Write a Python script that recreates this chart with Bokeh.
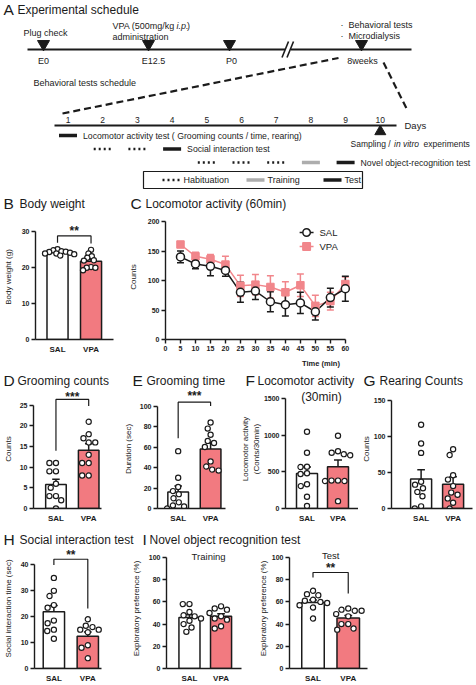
import math
from bokeh.plotting import figure
from bokeh.models import Range1d, FixedTicker
from bokeh.layouts import column, row
from bokeh.core.properties import value
from bokeh.embed import file_html
from bokeh.resources import INLINE

FONT = "Liberation Sans"
INK = "#1b1b1b"
PINK = "#F27A80"
PINK_LINE = "#F1868B"
GREY = "#ADADAD"

# ---------------- data ----------------
GROUPS = ["SAL", "VPA"]

# A: schedule
event_labels = ["E0", "E12.5", "P0", "8weeks"]
days = [1, 2, 3, 4, 5, 6, 7, 8, 9, 10]
schedule_day = [1, 2, 3, 4, 5, 6, 7, 8, 9]
schedule_row = [0, 1, 1, 1, 2, 2, 2, 2, 2]
schedule_kind = ["Test", "Habituation", "Habituation", "Test",
                 "Habituation", "Habituation", "Habituation", "Training", "Test"]
test_names = ["Locomotor activity test ( Grooming counts / time, rearing)",
              "Social interaction test", "Novel object-recognition test"]
legend_kinds = ["Habituation", "Training", "Test"]

# B: body weight (g)
bw_sal = [25.2, 24.9, 24.6, 24.5, 24.4, 24.2, 24.0, 24.0, 23.8, 23.4]
bw_vpa = [25.0, 24.0, 23.2, 22.8, 22.1, 22.0, 20.2, 20.0, 20.0, 19.3]
bw_mean = [24.3, 21.8]
bw_sem = [0.2, 0.6]

# C: locomotor activity 60 min
time_min = [5, 10, 15, 20, 25, 30, 35, 40, 45, 50, 55, 60]
loco_sal = [140, 128, 124, 117, 80, 82, 64, 59, 62, 47, 71, 86]
loco_sal_sem = [10, 8, 16, 10, 17, 14, 17, 19, 18, 14, 16, 21]
loco_vpa = [161, 141, 136, 127, 91, 93, 89, 80, 92, 57, 65, 94]
loco_vpa_sem = [3, 7, 8, 14, 18, 17, 19, 18, 19, 18, 15, 12]

# D: grooming counts
gc_sal = [11, 11, 9, 9, 6, 5, 3, 3, 2, 0]
gc_vpa = [21, 18, 17, 16, 16, 13, 11, 11, 8, 8]
gc_mean = [5.8, 14.1]
gc_sem = [1.3, 1.6]

# E: grooming time (sec)
gt_sal = [56, 30, 21, 17, 14, 10, 6, 3, 2, 0]
gt_vpa = [84, 78, 72, 66, 64, 60, 46, 41, 38, 37]
gt_mean = [16, 58]
gt_sem = [6, 6.4]

# F: locomotor activity 30 min
la_sal = [1045, 760, 570, 565, 480, 470, 330, 305, 160, 35]
la_vpa = [990, 780, 760, 740, 725, 380, 380, 375, 375, 100]
la_mean = [475, 567]
la_sem = [90, 93]

# G: rearing counts
rc_sal = [116, 90, 77, 37, 33, 28, 23, 17, 3, 0]
rc_vpa = [82, 74, 46, 40, 31, 22, 19, 14, 8, 0]
rc_mean = [41, 33.5]
rc_sem = [12.5, 10.5]

# H: social interaction time (sec)
si_sal = [35, 30, 28, 24.5, 23.5, 18.5, 17.5, 15, 14.5, 11.5]
si_vpa = [19, 16.5, 16, 15, 15, 14, 9, 8, 4]
si_mean = [21.9, 12.5]
si_sem = [2.4, 1.6]

# I: novel object recognition (%)
tr_sal = [58, 58, 51, 48, 47, 45, 43, 40, 37, 33]
tr_vpa = [56, 54, 53, 50, 47, 45, 44, 38, 36]
tr_mean = [46, 47]
tr_sem = [2.5, 2.3]
te_sal = [70, 67, 66, 62, 61, 60, 59, 57, 55, 45]
te_vpa = [54, 53, 52, 52, 49, 47, 40, 40, 36, 35]
te_mean = [59.5, 45.5]
te_sem = [2.2, 2.3]


# ---------------- helpers ----------------
def make_frame(width, height, left, base, x_left, x_ppu, y_ppu):
    p = figure(width=width, height=height,
               x_range=Range1d(x_left, x_left + (width - left) / x_ppu),
               y_range=Range1d(0, base / y_ppu),
               min_border_left=left, min_border_right=0, min_border_top=0,
               min_border_bottom=height - base,
               toolbar_location=None, output_backend="svg")
    p.outline_line_color = None
    p.grid.visible = False
    p.background_fill_color = "white"
    p.border_fill_color = "white"

    def m(px, py):
        return (x_left + (px - left) / x_ppu, (base - py) / y_ppu)
    return p, m


def style_axis(ax, size="7px", bold=True, tick=4):
    ax.axis_line_color = INK
    ax.axis_line_width = 1.4
    ax.major_tick_line_color = INK if tick else None
    ax.major_tick_line_width = 1.4
    ax.major_tick_out = tick
    ax.major_tick_in = 0
    ax.minor_tick_line_color = None
    ax.major_label_text_font = FONT
    ax.major_label_text_font_size = size
    ax.major_label_text_font_style = "bold" if bold else "normal"
    ax.major_label_text_color = INK
    ax.major_label_standoff = 2


def axis_title(ax, text, standoff, style="normal", size="8px"):
    ax.axis_label = text
    ax.axis_label_text_font = FONT
    ax.axis_label_text_font_size = size
    ax.axis_label_text_font_style = style
    ax.axis_label_text_color = INK
    ax.axis_label_standoff = standoff


def ftext(p, m, px, py, text, size, style="normal", align="left"):
    x, y = m(px, py)
    p.text(x=[x], y=[y], text=[text], text_font=value(FONT), text_font_size=f"{size}px",
           text_font_style=style, text_align=align, text_baseline="middle",
           text_color=INK)


def swarm(vals, y_ppu, d):
    n = len(vals)
    offs = [0.0] * n
    placed = []
    for i in sorted(range(n), key=lambda k: -vals[k]):
        y = vals[i] * y_ppu
        iv = []
        for xo, yo in placed:
            dy = abs(y - yo)
            if dy < d:
                h = math.sqrt(d * d - dy * dy)
                iv.append((xo - h, xo + h))
        cands = [0.0] + [a for a, b in iv] + [b for a, b in iv]
        ok = [c for c in cands if all(not (a + 1e-6 < c < b - 1e-6) for a, b in iv)]
        best = min(ok, key=lambda c: (abs(c), c))
        offs[i] = best
        placed.append((best, y))
    return offs


def bar_panel(width, height, left, base, ref_px, ref_val, c1, c2, bar_px,
              xend_px, yticks, sal, vpa, means, sems, ylabel, lab_standoff, dot_d=7.0):
    x_ppu = float(c2 - c1)
    x_left = 1 - (c1 - left) / x_ppu
    y_ppu = (base - ref_px) / ref_val
    p, m = make_frame(width, height, left, base, x_left, x_ppu, y_ppu)
    ya = p.yaxis[0]
    style_axis(ya)
    ya.ticker = FixedTicker(ticks=yticks)
    ya.bounds = (0, yticks[-1])
    axis_title(ya, ylabel, lab_standoff)
    xa = p.xaxis[0]
    style_axis(xa, size="8px", tick=0)
    xa.major_label_standoff = 5
    xa.ticker = FixedTicker(ticks=[1, 2])
    xa.major_label_overrides = {1: GROUPS[0], 2: GROUPS[1]}
    xa.bounds = (x_left, m(xend_px, 0)[0])

    p.vbar(x=[1, 2], top=means, bottom=0, width=bar_px / x_ppu,
           fill_color=["white", PINK], line_color=INK, line_width=1.5)
    tops = [a + b for a, b in zip(means, sems)]
    cap = 4.0 / x_ppu
    p.segment(x0=[1, 2], y0=means, x1=[1, 2], y1=tops, line_color=INK, line_width=1.5)
    p.segment(x0=[1 - cap, 2 - cap], y0=tops, x1=[1 + cap, 2 + cap], y1=tops,
              line_color=INK, line_width=1.5)
    for g, vals in ((1, sal), (2, vpa)):
        offs = swarm(vals, y_ppu, dot_d)
        xs = [g + o / x_ppu for o in offs]
        p.scatter(x=xs, y=vals, marker="circle", size=5.2, fill_color="white",
                  line_color=INK, line_width=1.2)
    return p, m


def bracket(p, top, lbot, rbot, stars, star_y):
    p.line(x=[1, 1, 2, 2], y=[lbot, top, top, rbot], line_color=INK, line_width=1.2)
    p.text(x=[1.5], y=[star_y], text=[stars], text_font=value(FONT),
           text_font_size="12px", text_font_style="bold", text_align="center",
           text_baseline="middle", text_color=INK)


def plain(height):
    s = figure(width=476, height=height, x_range=Range1d(0, 476), y_range=Range1d(height, 0),
               min_border=0, toolbar_location=None, output_backend="svg")
    s.axis.visible = False
    s.grid.visible = False
    s.outline_line_color = None
    return s


def stext(s, x, y, txt, size, style="normal", align="left"):
    s.text(x=[x], y=[y], text=[txt], text_font=value(FONT), text_font_size=f"{size}px",
           text_font_style=style, text_align=align, text_baseline="middle",
           text_color=INK)


def panel_title(s, lx, tx, y, letter, txt):
    stext(s, lx, y, letter, 15.5)
    stext(s, tx, y, txt, 12)


# ---------------- A: schedule (+ titles of B and C) ----------------
pA = plain(214)


def atext(x, y, s, size, style="normal", align="left"):
    stext(pA, x, y, s, size, style, align)


panel_title(pA, 3, 17, 9, "A", "Experimental schedule")

pA.line([27, 284.5], [49, 49], line_color=INK, line_width=2)
pA.line([290.5, 411], [49, 49], line_color=INK, line_width=2)
pA.segment(x0=[281.5, 286.5], y0=[57, 57], x1=[288, 293], y1=[41, 41],
           line_color=INK, line_width=1.6)
event_x = [43, 148, 229, 361]
pA.scatter(event_x, [43.5] * 4, marker="inverted_triangle", size=12,
           fill_color=INK, line_color=INK)
for lx, s in zip([43, 153, 231, 362], event_labels):
    atext(lx, 60, s, 9, align="center")
atext(23, 32, "Plug check", 9)
atext(112, 25, "VPA (500mg/kg ", 9)
atext(176, 25, "i.p.", 9, style="italic")
atext(186.5, 25, ")", 9)
atext(112, 36.5, "administration", 9)
atext(340, 24, "·", 9)
atext(348, 24, "Behavioral tests", 9)
atext(340, 35.5, "·", 9)
atext(348, 35.5, "Microdialysis", 9)
atext(33, 82, "Behavioral tests schedule", 9)
pA.line([62, 338], [113, 57.5], line_color=INK, line_width=2.2, line_dash="7 4")
pA.line([383, 407], [62, 110], line_color=INK, line_width=2.2, line_dash="7 4")


def day_x(d):
    return 67.5 + (d - 1) * 34.7


pA.line([54, 396], [125, 125], line_color=INK, line_width=2)
for d in days:
    atext(day_x(d), 119.5, str(d), 8.5, align="center")
atext(404, 125, "Days", 9.5)
pA.scatter([day_x(10)], [131], marker="triangle", size=11, fill_color=INK, line_color=INK)
atext(350, 143, "Sampling / ", 8.5)
atext(393.5, 143, "in vitro", 8.5, style="italic")
atext(423, 143, "experiments", 8.5)

row_y = [135, 148.5, 162]
kind_style = {"Test": dict(line_color=INK, line_width=3.5),
              "Training": dict(line_color=GREY, line_width=3.5),
              "Habituation": dict(line_color=INK, line_width=2.5, line_dash="2 3")}
for d, r, k in zip(schedule_day, schedule_row, schedule_kind):
    pA.line([day_x(d) - 9, day_x(d) + 9], [row_y[r]] * 2, **kind_style[k])
for r, name in enumerate(test_names):
    last = max(d for d, rr in zip(schedule_day, schedule_row) if rr == r)
    atext(day_x(last) + 15, row_y[r], name, 8.7)

pA.quad(left=[143], right=[362], top=[171], bottom=[188], fill_color=None,
        line_color=INK, line_width=1.2)
for k, sx, tx in zip(legend_kinds, [162, 246, 323], [183, 267, 344]):
    pA.line([sx, sx + 18], [179.5, 179.5], **kind_style[k])
    atext(tx, 179.5, k, 9)

panel_title(pA, 3, 19, 203, "B", "Body weight")
panel_title(pA, 130, 145, 203, "C", "Locomotor activity (60min)")

# ---------------- row 2: B, C ----------------
pB, mB = bar_panel(125, 156, 31, 129, 18, 30, 54, 89, 22, 112, [0, 10, 20, 30],
                   bw_sal, bw_vpa, bw_mean, bw_sem, "Body weight (g)", 6, dot_d=4.6)
bracket(pB, 28.9, 27.0, 26.8, "**", 30.2)

c_xppu = 181 / 60.0
c_yppu = 118 / 200.0
pC, mC = make_frame(351, 156, 38, 125, 0, c_xppu, c_yppu)
style_axis(pC.xaxis[0])
pC.xaxis[0].ticker = FixedTicker(ticks=[0] + time_min)
pC.xaxis[0].bounds = (0, 60)
axis_title(pC.xaxis[0], "Time (min)", 5, style="bold", size="7.5px")
style_axis(pC.yaxis[0])
pC.yaxis[0].ticker = FixedTicker(ticks=[0, 50, 100, 150, 200])
pC.yaxis[0].bounds = (0, 200)
axis_title(pC.yaxis[0], "Counts", 7)
cap = 3.5 / c_xppu
for ys, es, col in ((loco_vpa, loco_vpa_sem, PINK_LINE), (loco_sal, loco_sal_sem, INK)):
    lo = [a - b for a, b in zip(ys, es)]
    hi = [a + b for a, b in zip(ys, es)]
    pC.segment(x0=time_min, y0=lo, x1=time_min, y1=hi, line_color=col, line_width=1.5)
    pC.segment(x0=[t - cap for t in time_min], y0=lo, x1=[t + cap for t in time_min], y1=lo,
               line_color=col, line_width=1.5)
    pC.segment(x0=[t - cap for t in time_min], y0=hi, x1=[t + cap for t in time_min], y1=hi,
               line_color=col, line_width=1.5)
    pC.line(time_min, ys, line_color=col, line_width=1.5)
pC.scatter(time_min, loco_vpa, marker="square", size=7.5, fill_color=PINK_LINE, line_color=PINK_LINE)
pC.scatter(time_min, loco_sal, marker="circle", size=8, fill_color="white", line_color=INK, line_width=1.5)
for py, col, mk, fc, name in ((18, INK, "circle", "white", "SAL"), (32, PINK_LINE, "square", PINK_LINE, "VPA")):
    a = mC(173, py)
    b = mC(187, py)
    c = mC(180, py)
    pC.line([a[0], b[0]], [a[1], b[1]], line_color=col, line_width=1.5)
    pC.scatter([c[0]], [c[1]], marker=mk, size=7.5, fill_color=fc, line_color=col, line_width=1.5)
    ftext(pC, mC, 193, py, name, 9.5)

# ---------------- row 3: titles, D, E, F, G ----------------
s3 = plain(19)
panel_title(s3, 3, 17, 10, "D", "Grooming counts")
panel_title(s3, 132, 146, 10, "E", "Grooming time")
panel_title(s3, 245, 257, 10, "F", "Locomotor activity")
panel_title(s3, 363, 379, 10, "G", "Rearing Counts")

pD, mD = bar_panel(120, 136, 27, 121, 16, 25, 51, 86, 22, 100, [0, 5, 10, 15, 20, 25],
                   gc_sal, gc_vpa, gc_mean, gc_sem, "Counts", 4)
bracket(pD, 26.4, 14.0, 24.8, "***", 27.1)

pE, mE = bar_panel(115, 136, 32, 122, 17, 100, 54, 88.5, 22, 104, [0, 20, 40, 60, 80, 100],
                   gt_sal, gt_vpa, gt_mean, gt_sem, "Duration (sec)", 4)
bracket(pE, 103.8, 68.6, 100, "***", 109.4)

pF, mF = bar_panel(123, 136, 50, 121, 9, 1500, 71.5, 102.5, 21, 123, [0, 500, 1000, 1500],
                   la_sal, la_vpa, la_mean, la_sem, "Locomotor activity\n(Conts/30min)", 0, dot_d=6.5)
ftext(pF, mF, 86, 8, "(30min)", 12, align="center")

pG, mG = bar_panel(118, 136, 29, 123, 11, 150, 60, 93.5, 22, 114, [0, 50, 100, 150],
                   rc_sal, rc_vpa, rc_mean, rc_sem, "Counts", 0)

# ---------------- row 4: titles, H, I ----------------
s4 = plain(23)
panel_title(s4, 3, 19, 14, "H", "Social interaction test")
panel_title(s4, 142, 149, 14, "I", "Novel object recognition test")

pH, mH = bar_panel(128, 137, 31, 124, 17, 40, 51, 86, 22, 100, [0, 10, 20, 30, 40],
                   si_sal, si_vpa, si_mean, si_sem, "Social interaction time (sec)", 5)
bracket(pH, 42.2, 40.0, 23.2, "**", 43.8)

pI1, mI1 = bar_panel(127, 137, 34, 120, 9, 100, 58, 91, 22, 112, [0, 20, 40, 60, 80, 100],
                     tr_sal, tr_vpa, tr_mean, tr_sem, "Exploratory preference (%)", 5)
ftext(pI1, mI1, 78, 7.5, "Training", 9.5, align="center")

pI2, mI2 = bar_panel(221, 137, 30, 120, 9, 100, 54, 90, 23, 110, [0, 20, 40, 60, 80, 100],
                     te_sal, te_vpa, te_mean, te_sem, "Exploratory preference (%)", 1)
bracket(pI2, 86.5, 82.0, 67.6, "**", 90.5)
ftext(pI2, mI2, 72, 6.5, "Test", 9.5, align="center")

layout = column(pA, row(pB, pC), s3, row(pD, pE, pF, pG), s4, row(pH, pI1, pI2))
open("out.html", "w").write(file_html(layout, INLINE))
